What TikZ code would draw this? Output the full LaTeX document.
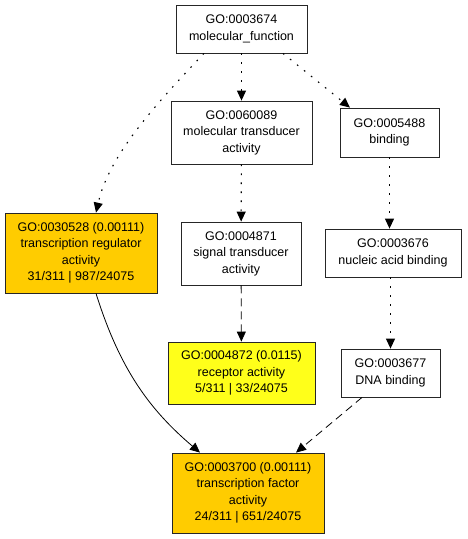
\documentclass[tikz,border=0pt]{standalone}
\usepackage{fontspec}
\setmainfont{Liberation Sans}
\usepackage{tikz}
\usetikzlibrary{arrows.meta}

\definecolor{goorange}{HTML}{FFCC00}
\definecolor{goyellow}{HTML}{FFFF1A}

\begin{document}
\begin{tikzpicture}
	[x=1pt,y=-1pt,->,>={Triangle[length=10pt,width=9pt]},line width=0.8pt,
		go node/.style={rectangle,draw=black!85,fill=white,align=center,inner sep=0pt,
			font=\fontsize{12.5}{16.5}\selectfont},
		hit node/.style={go node,fill=goorange},
		weak node/.style={go node,fill=goyellow},
		isa/.style={line width=1.1pt,dash pattern=on 1.6pt off 7.4pt},
		partof/.style={dash pattern=on 8pt off 5pt}]

	\useasboundingbox (0,0) rectangle (467,539);

	\node[go node, minimum width=131pt, minimum height=48pt] (mf) at (241.5,29) {GO:0003674\\molecular\_function};
	\node[go node, minimum width=141pt, minimum height=63pt] (mt) at (241.5,132.5) {GO:0060089\\molecular transducer\\activity};
	\node[go node, minimum width=99pt, minimum height=49pt] (bind) at (389.5,132.5) {GO:0005488\\binding};
	\node[hit node, minimum width=152pt, minimum height=80pt] (treg) at (81,253) {GO:0030528 (0.00111)\\transcription regulator\\activity\\31/311 | 987/24075};
	\node[go node, minimum width=120pt, minimum height=63pt] (st) at (241,253.5) {GO:0004871\\signal transducer\\activity};
	\node[go node, minimum width=136pt, minimum height=48pt] (nab) at (393,253) {GO:0003676\\nucleic acid binding};
	\node[weak node, minimum width=147pt, minimum height=62pt] (rec) at (241.5,373) {GO:0004872 (0.0115)\\receptor activity\\5/311 | 33/24075};
	\node[go node, minimum width=99pt, minimum height=48pt] (dna) at (390.5,373) {GO:0003677\\DNA binding};
	\node[hit node, minimum width=152pt, minimum height=80pt] (tf) at (248,493) {GO:0003700 (0.00111)\\transcription factor\\activity\\24/311 | 651/24075};

	\path
	(mf) edge [isa] (mt)
	(mf.south -| 283,0) edge [isa] (bind.north -| 350,0)
	(mt) edge [isa] (st)
	(bind) edge [isa] (nab.north -| bind.south)
	(nab.south -| dna.north) edge [isa] (dna)
	(st) edge [partof] (rec)
	(dna.south -| 362,0) edge [partof] (tf.north -| 296,0)
	;
	\draw[isa] (mf.south -| 204,0) .. controls (145,115) and (108,160) .. (treg.north -| 96,0);
	\draw (treg.south -| 96,0) .. controls (120,370) and (150,410) .. (tf.north -| 200,0);

\end{tikzpicture}
\end{document}
